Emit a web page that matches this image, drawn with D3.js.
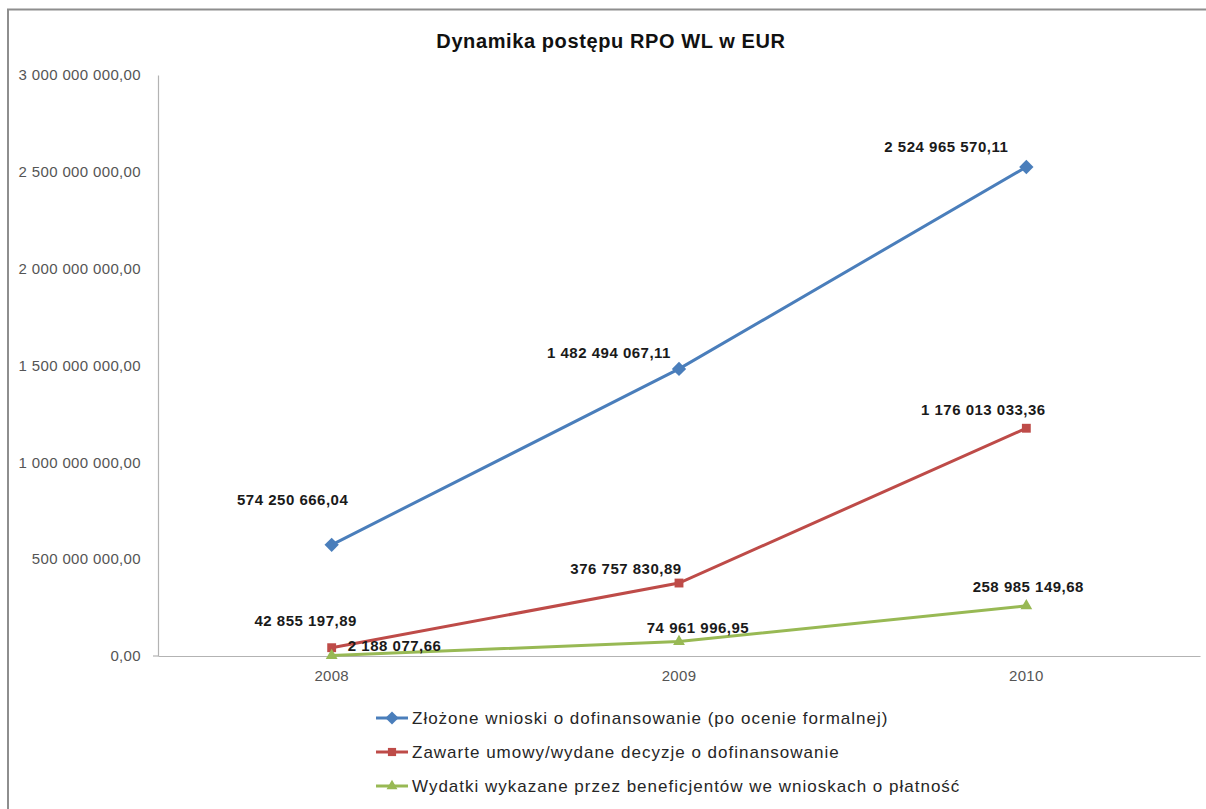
<!DOCTYPE html>
<html>
<head>
<meta charset="utf-8">
<script src="https://cdn.jsdelivr.net/npm/d3@7"></script>
<style>
  html, body { margin: 0; padding: 0; background: #fff; }
  svg { display: block; }
</style>
</head>
<body>
<svg id="chart" width="1206" height="809"></svg>
<script>
// ---- data ----
const years = ["2008", "2009", "2010"];
const seriesNames = [
  "Złożone wnioski o dofinansowanie (po ocenie formalnej)",
  "Zawarte umowy/wydane decyzje o dofinansowanie",
  "Wydatki wykazane przez beneficjentów we wnioskach o płatność"
];
const zlozone = [574250666.04, 1482494067.11, 2524965570.11];
const zawarte = [42855197.89, 376757830.89, 1176013033.36];
const wydatki = [2188077.66, 74961996.95, 258985149.68];
const yTicks = [0, 500000000, 1000000000, 1500000000, 2000000000, 2500000000, 3000000000];
const title = "Dynamika postępu RPO WL w EUR";

// ---- styling (not data) ----
const colors = ["#4A7EBB", "#BE4B48", "#98B954"];
const symbols = [d3.symbolDiamond2, d3.symbolSquare2, d3.symbolTriangle2];
// label offsets relative to point (dx, dy to text centre)
const labelOffsets = [
  [[-39, -45], [-70, -16], [-80, -20]],
  [[-26, -27], [-53, -14], [-43, -18]],
  [[63, -10], [19, -14], [2, -19]]
];

const allSeries = [zlozone, zawarte, wydatki];

const svg = d3.select("#chart");
const W = 1206, H = 809;
const margin = { left: 158, right: 6, top: 75, bottom: 153 };
const plotW = W - margin.left - margin.right;
const plotH = H - margin.top - margin.bottom;

// frame
svg.append("rect").attr("x", 8).attr("y", 9.5).attr("width", W).attr("height", H)
  .attr("fill", "#fff").attr("stroke", "#8e8e8e").attr("stroke-width", 2);

const fmt = v => {
  const s = v.toFixed(2).split(".");
  const intPart = s[0].replace(/\B(?=(\d{3})+(?!\d))/g, " ");
  return intPart + "," + s[1];
};

const x = d3.scaleBand().domain(years).range([margin.left, margin.left + plotW]);
const y = d3.scaleLinear().domain([0, 3000000000]).range([margin.top + plotH, margin.top]);

const font = "'Liberation Sans', Arial, sans-serif";

// title
svg.append("text").attr("x", 611).attr("y", 48).attr("text-anchor", "middle")
  .attr("font-family", font).attr("font-weight", "bold").attr("font-size", 20)
  .attr("letter-spacing", 0.6).attr("fill", "#111").text(title);

// y axis
const yAxis = d3.axisLeft(y).tickValues(yTicks).tickFormat(fmt).tickSize(0).tickPadding(17);
const gy = svg.append("g").attr("transform", `translate(${margin.left},0)`).call(yAxis);
gy.select(".domain").attr("stroke", "#b3b3b3").attr("stroke-width", 1.2);
gy.selectAll("text").attr("font-family", font).attr("font-size", 15)
  .attr("letter-spacing", 0.35).attr("fill", "#555");
// small tick at zero
svg.append("line").attr("x1", margin.left - 5).attr("x2", margin.left)
  .attr("y1", y(0)).attr("y2", y(0)).attr("stroke", "#b3b3b3").attr("stroke-width", 1.2);

// x axis
const xAxis = d3.axisBottom(x).tickSize(0).tickPadding(14);
const gx = svg.append("g").attr("transform", `translate(0,${y(0)})`).call(xAxis);
gx.select(".domain").attr("stroke", "#b3b3b3").attr("stroke-width", 1.2);
gx.selectAll("text").attr("font-family", font).attr("font-size", 15)
  .attr("letter-spacing", 0.3).attr("fill", "#555");

const cx = yr => x(yr) + x.bandwidth() / 2;

const line = d3.line().x((d, i) => cx(years[i])).y(d => y(d));

allSeries.forEach((vals, si) => {
  svg.append("path").datum(vals).attr("d", line).attr("fill", "none")
    .attr("stroke", colors[si]).attr("stroke-width", 3);
  svg.selectAll(null).data(vals).enter().append("path")
    .attr("transform", (d, i) => `translate(${cx(years[i])},${y(d)})`)
    .attr("d", d3.symbol().type(symbols[si]).size(si === 0 ? 130 : 100))
    .attr("fill", colors[si]);
});

// data labels
allSeries.forEach((vals, si) => {
  svg.selectAll(null).data(vals).enter().append("text")
    .attr("x", (d, i) => cx(years[i]) + labelOffsets[si][i][0])
    .attr("y", (d, i) => y(d) + labelOffsets[si][i][1])
    .attr("dy", "0.35em").attr("text-anchor", "middle")
    .attr("font-family", font).attr("font-weight", "bold").attr("font-size", 15)
    .attr("letter-spacing", 0.5).attr("fill", "#1a1a1a").text(d => fmt(d));
});

// legend
const legend = svg.append("g").attr("transform", "translate(376,718)");
seriesNames.forEach((name, i) => {
  const g = legend.append("g").attr("transform", `translate(0,${i * 34})`);
  g.append("line").attr("x1", 0).attr("x2", 32).attr("y1", 0).attr("y2", 0)
    .attr("stroke", colors[i]).attr("stroke-width", 3);
  g.append("path").attr("transform", "translate(16,0)")
    .attr("d", d3.symbol().type(symbols[i]).size(i === 0 ? 110 : 85)).attr("fill", colors[i]);
  g.append("text").attr("x", 36).attr("y", 0).attr("dy", "0.35em")
    .attr("font-family", font).attr("font-size", 17).attr("letter-spacing", 1)
    .attr("fill", "#262626").text(name);
});
</script>
</body>
</html>
